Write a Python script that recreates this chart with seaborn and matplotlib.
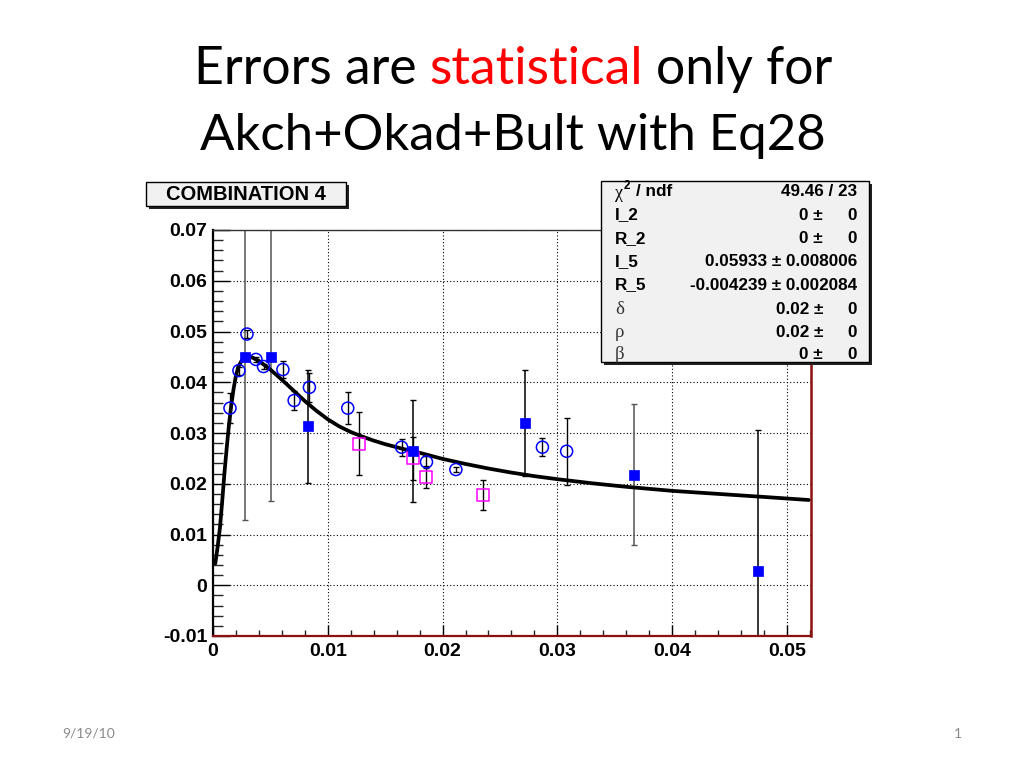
import matplotlib
matplotlib.use('Agg')
import matplotlib.pyplot as plt
import seaborn as sns
import pandas as pd
from matplotlib.patches import Rectangle
from matplotlib.ticker import MultipleLocator, FuncFormatter
from matplotlib.transforms import IdentityTransform

# fitted curve
curve_x = [0.0002, 0.0004, 0.0006, 0.0008, 0.0010, 0.0012, 0.0014, 0.0016,
           0.0018, 0.0020, 0.0022, 0.0025, 0.0029, 0.0034, 0.0040, 0.0050,
           0.0060, 0.0070, 0.0080, 0.0090, 0.0100, 0.0110, 0.0120, 0.0130,
           0.0140, 0.0150, 0.0165, 0.0180, 0.0200, 0.0220, 0.0240, 0.0260,
           0.0280, 0.0300, 0.0330, 0.0360, 0.0400, 0.0440, 0.0480, 0.0519]
curve_y = [0.0043, 0.0075, 0.0112, 0.0165, 0.0222, 0.0272, 0.0318, 0.0356,
           0.0388, 0.0413, 0.0430, 0.0443, 0.0449, 0.0449, 0.0442, 0.0425,
           0.0405, 0.0384, 0.0363, 0.0344, 0.0327, 0.0313, 0.0302, 0.0293,
           0.0285, 0.0278, 0.0269, 0.0261, 0.0249, 0.0239, 0.0230, 0.0222,
           0.0215, 0.0209, 0.0201, 0.0194, 0.0186, 0.0180, 0.0174, 0.0168]

# blue filled squares
sq_x = [0.00281, 0.00507, 0.00826, 0.01744, 0.02722, 0.03666, 0.04744]
sq_y = [0.0449, 0.0449, 0.0313, 0.0265, 0.0320, 0.0218, 0.0029]
sq_err = [0.0320, 0.0283, 0.0111, 0.0101, 0.0105, 0.0139, 0.0276]

# blue open circles
ci_x = [0.00148, 0.00226, 0.00296, 0.00374, 0.0044, 0.00609, 0.00707, 0.0084,
        0.01174, 0.01643, 0.0186, 0.02116, 0.0287, 0.03081]
ci_y = [0.0349, 0.0423, 0.0495, 0.0445, 0.0431, 0.0425, 0.0364, 0.0390,
        0.0349, 0.0272, 0.0243, 0.0228, 0.0272, 0.0264]
ci_err = [0.0030, 0.0008, 0.0008, 0.0005, 0.0005, 0.0017, 0.0018, 0.0028,
          0.0031, 0.0017, 0.0011, 0.0005, 0.0018, 0.0066]

# magenta open squares
mg_x = [0.0127, 0.01744, 0.01852, 0.02353]
mg_y = [0.0279, 0.0250, 0.0213, 0.0178]
mg_err = [0.0062, 0.0042, 0.0022, 0.0030]

stat_labels = ['I_2', 'R_2', 'I_5', 'R_5', 'δ', 'ρ', 'β']
stat_values = ['0', '0', '0.05933', '-0.004239', '0.02', '0.02', '0']
stat_errors = ['0', '0', '0.008006', '0.002084', '0', '0', '0']
chi2_text = '49.46 / 23'

sns.set_theme(style='white')
plt.rcParams['font.family'] = ['Liberation Sans', 'DejaVu Sans']
plt.rcParams['text.color'] = 'black'

W, H = 1024, 768
fig = plt.figure(figsize=(W / 100, H / 100), dpi=100)
fig.patch.set_facecolor('white')


def fx(px):
    return px / W


def fy(py):
    return 1 - py / H


ax = fig.add_axes([fx(213), fy(636), (811 - 213) / W, (636 - 230) / H])
ax.set_facecolor('white')

# error bars
sq_ecol = ['#555555', '#555555', 'black', 'black', 'black', '#555555', 'black']
for x, y, e, c in zip(sq_x, sq_y, sq_err, sq_ecol):
    ax.errorbar([x], [y], yerr=[e], fmt='none', ecolor=c, elinewidth=1.1,
                capsize=2.2, capthick=1, zorder=2)
ax.errorbar(ci_x, ci_y, yerr=ci_err, fmt='none', ecolor='black', elinewidth=1,
            capsize=2.2, capthick=1, zorder=2)
ax.errorbar(mg_x, mg_y, yerr=mg_err, fmt='none', ecolor='black', elinewidth=1,
            capsize=2.2, capthick=1, zorder=2)

curve = pd.DataFrame({'x': curve_x, 'y': curve_y})
sns.lineplot(data=curve, x='x', y='y', color='black', linewidth=2.7,
             sort=False, ax=ax, zorder=3)

circ = pd.DataFrame({'x': ci_x, 'y': ci_y})
sns.scatterplot(data=circ, x='x', y='y', marker='o', s=75, facecolors='none',
                edgecolor='blue', linewidth=1.1, ax=ax, zorder=4)
mag = pd.DataFrame({'x': mg_x, 'y': mg_y})
sns.scatterplot(data=mag, x='x', y='y', marker='s', s=75, facecolors='none',
                edgecolor='#ff00ff', linewidth=1.1, ax=ax, zorder=4)
sq = pd.DataFrame({'x': sq_x, 'y': sq_y})
sns.scatterplot(data=sq, x='x', y='y', marker='s', s=55, color='blue',
                edgecolor='blue', linewidth=0.5, ax=ax, zorder=5)

ax.set_xlim(0, 0.0521)
ax.set_ylim(-0.01, 0.07)
ax.set_xlabel('')
ax.set_ylabel('')

ax.xaxis.set_major_locator(MultipleLocator(0.01))
ax.xaxis.set_minor_locator(MultipleLocator(0.002))
ax.yaxis.set_major_locator(MultipleLocator(0.01))
ax.yaxis.set_minor_locator(MultipleLocator(0.002))
fmt = FuncFormatter(lambda v, p: '%g' % round(v, 4))
ax.xaxis.set_major_formatter(fmt)
ax.yaxis.set_major_formatter(fmt)

ax.grid(True, which='major', linestyle=(0, (1, 2)), color='black', linewidth=0.8)
ax.set_axisbelow(True)

ax.tick_params(axis='y', which='major', direction='in', length=12, width=1,
               left=True, right=False, pad=4, labelsize=14, colors='black')
ax.tick_params(axis='y', which='minor', direction='in', length=7, width=1,
               left=True, right=False)
ax.tick_params(axis='x', which='major', direction='in', length=8, width=1,
               bottom=True, top=False, pad=5, labelsize=14, colors='black')
ax.tick_params(axis='x', which='minor', direction='in', length=4.5, width=1,
               bottom=True, top=False)
for lab in ax.get_xticklabels() + ax.get_yticklabels():
    lab.set_fontweight('bold')

ax.spines['left'].set_color('black')
ax.spines['left'].set_linewidth(1.6)
ax.spines['top'].set_color('#333333')
ax.spines['top'].set_linewidth(1)
ax.spines['right'].set_color('#8b1010')
ax.spines['right'].set_linewidth(1.8)
ax.spines['bottom'].set_color('#8b1010')
ax.spines['bottom'].set_linewidth(1.6)


def box(x0, y0, x1, y1):
    fig.patches.append(Rectangle((fx(x0 + 3), fy(y1 + 3)), (x1 - x0) / W, (y1 - y0) / H,
                                 transform=fig.transFigure, facecolor='#222222',
                                 edgecolor='none', zorder=5))
    fig.patches.append(Rectangle((fx(x0), fy(y1)), (x1 - x0) / W, (y1 - y0) / H,
                                 transform=fig.transFigure, facecolor='#f1f1f1',
                                 edgecolor='black', linewidth=1, zorder=6))


# title box
box(146, 182, 346, 206)
fig.text(fx(246), fy(194), 'COMBINATION 4', ha='center', va='center',
         fontsize=14.5, fontweight='bold', zorder=7)

# stats box
box(601, 181, 869, 362)
row_y = [215, 238.5, 262, 285, 309, 332, 355]
sfont = 12.3
fig.text(fx(615), fy(193), 'χ', ha='left', va='center', fontsize=13,
         family='Liberation Serif', zorder=7)
fig.text(fx(624), fy(186), '2', ha='left', va='center', fontsize=8.5,
         fontweight='bold', zorder=7)
fig.text(fx(636), fy(192), '/ ndf', ha='left', va='center', fontsize=sfont,
         fontweight='bold', zorder=7)
fig.text(fx(857), fy(192), chi2_text, ha='right', va='center', fontsize=sfont,
         fontweight='bold', zorder=7)
for lab, val, err, y in zip(stat_labels, stat_values, stat_errors, row_y):
    if lab in ('δ', 'ρ', 'β'):
        fig.text(fx(615), fy(y), lab, ha='left', va='center', fontsize=13.5,
                 family='Liberation Serif', color='#333333', zorder=7)
    else:
        fig.text(fx(615), fy(y), lab, ha='left', va='center', fontsize=sfont,
                 fontweight='bold', zorder=7)
    if len(err) > 2:
        fig.text(fx(857), fy(y), val + ' ± ' + err, ha='right', va='center',
                 fontsize=sfont, fontweight='bold', zorder=7)
    else:
        fig.text(fx(823), fy(y), val + ' ±', ha='right', va='center',
                 fontsize=sfont, fontweight='bold', zorder=7)
        fig.text(fx(857), fy(y), err, ha='right', va='center',
                 fontsize=sfont, fontweight='bold', zorder=7)

# slide title, with "statistical" in red
renderer = fig.canvas.get_renderer()
tfont = dict(fontsize=37.3, family=['Lato', 'DejaVu Sans'])


def width(s):
    t = fig.text(0, 0, s, transform=IdentityTransform(), **tfont)
    w = t.get_window_extent(renderer).width
    t.remove()
    return w


line1 = 'Errors are statistical only for'
x0 = 513 - width(line1) / 2
base1 = H - 84
fig.text(x0, base1, 'Errors are', transform=IdentityTransform(), va='baseline',
         color='black', **tfont)
fig.text(x0 + width('Errors are statistical') - width('statistical'), base1,
         'statistical', transform=IdentityTransform(), va='baseline',
         color='#ff0000', **tfont)
fig.text(x0 + width(line1) - width('only for'), base1, 'only for',
         transform=IdentityTransform(), va='baseline', color='black', **tfont)
fig.text(fx(513), fy(150), 'Akch+Okad+Bult with Eq28', ha='center',
         va='baseline', color='black', fontsize=36.6, family=['Lato', 'DejaVu Sans'])

# footer
fig.text(fx(89), fy(734), '9/19/10', ha='center', va='center', fontsize=10,
         family=['Lato', 'DejaVu Sans'], color='#8a8a8a')
fig.text(fx(958), fy(734), '1', ha='center', va='center', fontsize=10,
         family=['Lato', 'DejaVu Sans'], color='#8a8a8a')

fig.savefig('out.png', dpi=100)
plt.close(fig)
